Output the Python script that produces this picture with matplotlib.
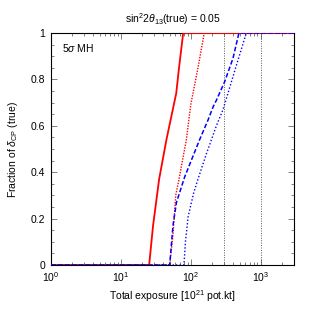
import matplotlib
matplotlib.use("Agg")
import matplotlib.pyplot as plt
from matplotlib.ticker import LogLocator, MultipleLocator, FixedLocator, FixedFormatter, NullFormatter

plt.rcParams['font.family'] = ['Liberation Sans', 'DejaVu Sans']
plt.rcParams['mathtext.fontset'] = 'custom'
plt.rcParams['mathtext.rm'] = 'Liberation Sans'
plt.rcParams['mathtext.it'] = 'Liberation Sans:italic'
plt.rcParams['mathtext.sf'] = 'Liberation Sans'

# Data (exposure in 10^21 pot.kt, fraction of delta_CP)
red_solid_x = [1, 25.4, 28.9, 35.3, 44.9, 62, 68, 78, 3000]
red_solid_y = [0, 0, 0.17, 0.37, 0.54, 0.74, 0.85, 1.0, 1.0]

red_dot_x = [1, 50, 55.7, 61, 68, 86.5, 100, 127, 156, 3000]
red_dot_y = [0, 0, 0.13, 0.30, 0.37, 0.54, 0.69, 0.85, 1.0, 1.0]

blue_dash_x = [1, 50, 55.7, 62.5, 82, 134, 177, 208, 233, 306, 402, 490, 3000]
blue_dash_y = [0, 0, 0.17, 0.27, 0.38, 0.54, 0.625, 0.68, 0.71, 0.79, 0.89, 1.0, 1.0]

blue_dot_x = [1, 80, 84, 92, 110, 127, 168, 233, 290, 450, 625, 3000]
blue_dot_y = [0, 0, 0.1, 0.21, 0.31, 0.37, 0.48, 0.60, 0.67, 0.86, 1.0, 1.0]

vlines_x = [300, 1000]

title = r"sin$^2$2$\theta_{13}$(true) = 0.05"
xlabel = r"Total exposure [10$^{21}$ pot.kt]"
ylabel = r"Fraction of $\delta_{\rm CP}$ (true)"
annot = r"5$\sigma$ MH"

fig = plt.figure(figsize=(3.13, 3.13), dpi=100)
ax = fig.add_axes([0.163, 0.1534, 0.776, 0.7412])

for xv in vlines_x:
    ax.axvline(xv, color='0.35', lw=0.7, ls=(0, (1, 1.5)), zorder=1)

ax.plot(red_solid_x, red_solid_y, color='#ff0000', lw=1.3, ls='-', zorder=3)
ax.plot(red_dot_x, red_dot_y, color='#ff0000', lw=1.0, ls=(0, (1, 1)), zorder=3)
ax.plot(blue_dash_x, blue_dash_y, color='#0000ff', lw=1.1, ls=(0, (3, 1.5)), zorder=3)
ax.plot(blue_dot_x, blue_dot_y, color='#0000ff', lw=1.0, ls=(0, (1, 1.5)), zorder=3)

ax.set_xscale('log')
ax.set_xlim(1, 3000)
ax.set_ylim(0, 1)
ax.xaxis.set_major_locator(FixedLocator([1, 10, 100, 1000]))
ax.xaxis.set_major_formatter(FixedFormatter([r"10$^0$", r"10$^1$", r"10$^2$", r"10$^3$"]))
ax.xaxis.set_minor_locator(LogLocator(base=10, subs=range(2, 10), numticks=20))
ax.xaxis.set_minor_formatter(NullFormatter())
ax.yaxis.set_minor_locator(MultipleLocator(0.05))
ax.set_yticks([0, 0.2, 0.4, 0.6, 0.8, 1.0])
ax.set_yticklabels(["0", "0.2", "0.4", "0.6", "0.8", "1"])

ax.tick_params(which='both', direction='in', top=True, right=True, labelsize=7.5, pad=4, width=0.5, color='0.3')
ax.tick_params(which='major', length=4)
ax.tick_params(which='minor', length=2)
for s in ax.spines.values():
    s.set_linewidth(0.8)

ax.set_title(title, fontsize=7.5, pad=7)
ax.set_xlabel(xlabel, fontsize=7.5, labelpad=3)
ax.set_ylabel(ylabel, fontsize=7.5, labelpad=8)
ax.text(0.045, 0.96, annot, transform=ax.transAxes, fontsize=7.5, va='top', ha='left')

fig.savefig('out.png', dpi=100)
